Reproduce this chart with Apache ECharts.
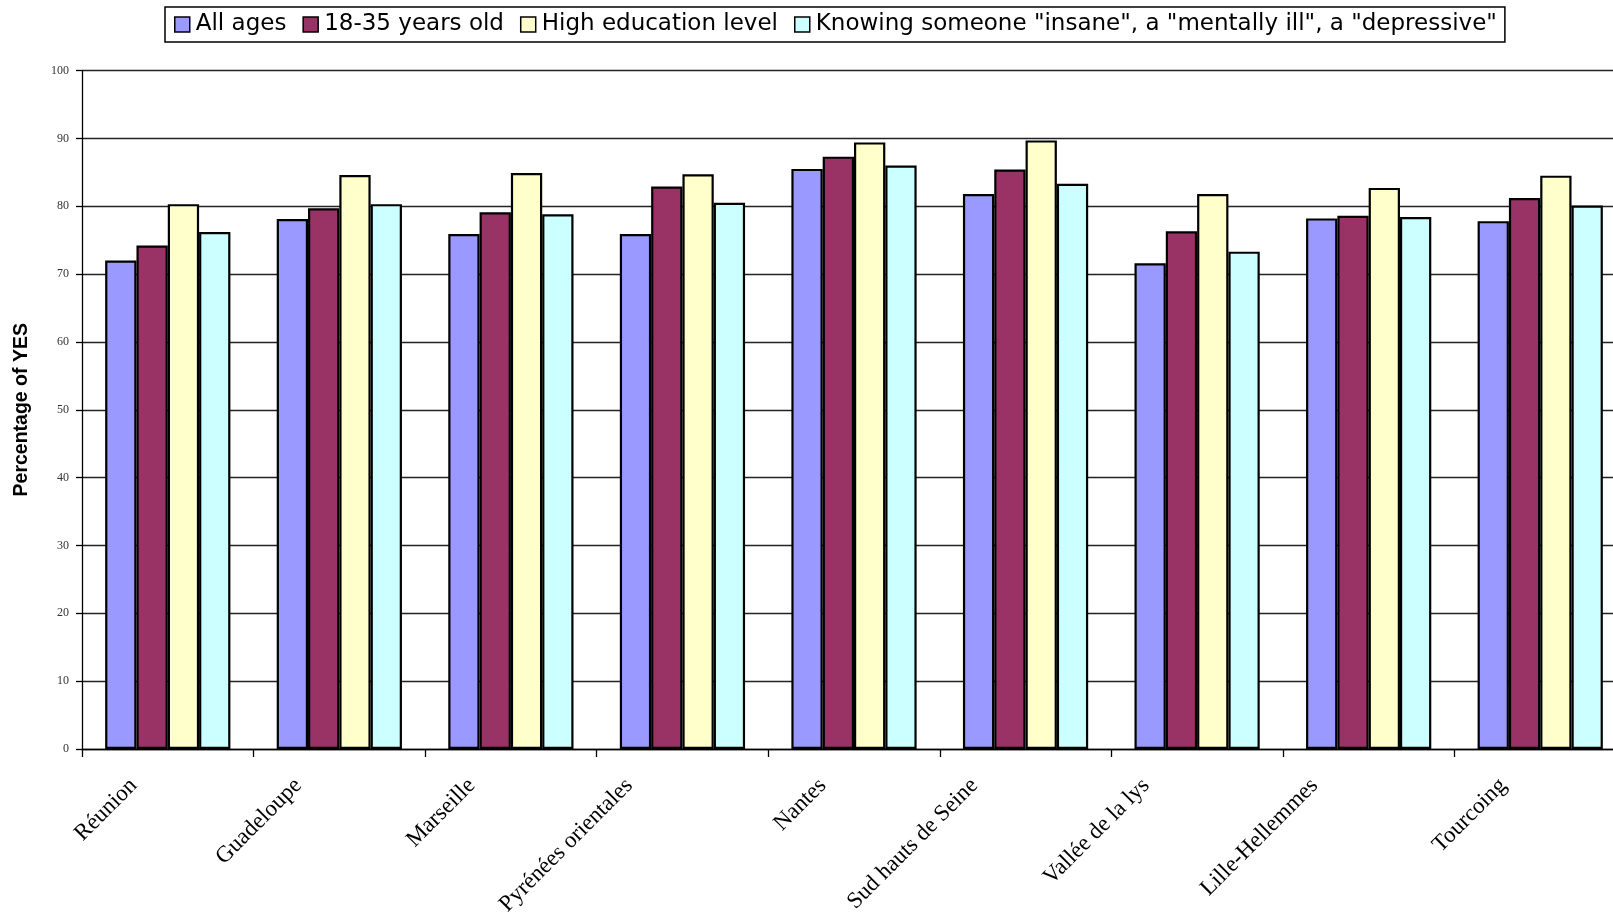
<!DOCTYPE html>
<html>
<head>
<meta charset="utf-8">
<script src="https://cdn.jsdelivr.net/npm/echarts@6/dist/echarts.min.js"></script>
<style>
  html, body { margin: 0; padding: 0; background: #fff; }
  #chart { width: 1613px; height: 916px; }
</style>
</head>
<body>
<div id="chart"></div>
<script>
// Sites surveyed
const sites = ['Réunion', 'Guadeloupe', 'Marseille', 'Pyrénées orientales', 'Nantes',
  'Sud hauts de Seine', 'Vallée de la lys', 'Lille-Hellemmes', 'Tourcoing'];

// Percentage of YES answers per group
const allAges   = [72.0, 78.1, 75.9, 75.9, 85.5, 81.8, 71.6, 78.2, 77.8];
const age18to35 = [74.2, 79.7, 79.1, 82.9, 87.3, 85.4, 76.3, 78.6, 81.2];
const highEdu   = [80.3, 84.6, 84.9, 84.7, 89.4, 89.7, 81.8, 82.7, 84.5];
const knowing   = [76.2, 80.3, 78.8, 80.5, 86.0, 83.3, 73.3, 78.4, 80.1];

const seriesNames = ['All ages', '18-35 years old', 'High education level',
  'Knowing someone "insane", a "mentally ill", a "depressive"'];
const seriesData = [allAges, age18to35, highEdu, knowing];
const seriesColors = ['#9999FF', '#993366', '#FFFFCC', '#CCFFFF'];

const yTicks = { min: 0, max: 100, interval: 10 };

// Extra leftward pull of each slanted site label (px), keeping its top edge level:
// extra right padding slides the text back along its baseline, and bottom padding
// on its rich token lifts it along its normal by the same amount.
const labelPull = [3, 10, 8, 22, 0, 20, 20, 23, 6];
const BASE_PAD = 44;
const LINE = 26;
const LABEL_FONT = { fontFamily: 'Liberation Serif', fontSize: 23, color: '#000' };

const rich = {};
const categoryItems = sites.map((name, i) => {
  const s = labelPull[i] * Math.SQRT1_2;
  rich['r' + i] = Object.assign({ padding: [0, 0, 2 * s, 0], lineHeight: LINE }, LABEL_FONT);
  return {
    value: name,
    textStyle: { padding: [0, BASE_PAD + s, 0, 0], lineHeight: LINE }
  };
});

const chart = echarts.init(document.getElementById('chart'));

chart.setOption({
  animation: false,
  backgroundColor: '#fff',
  legend: {
    top: 7,
    left: 165,
    padding: [6, 8, 6, 9],
    itemGap: 16,
    itemWidth: 15,
    itemHeight: 15,
    borderColor: '#000',
    borderWidth: 1.5,
    backgroundColor: '#fff',
    icon: 'rect',
    itemStyle: { borderColor: '#000', borderWidth: 1.5 },
    textStyle: { fontFamily: 'DejaVu Sans', fontSize: 23, color: '#000', padding: [0, 0, 0, 1] },
    data: seriesNames
  },
  grid: {
    left: 82,
    right: -13,
    top: 70.5,
    bottom: 167,
    outerBoundsMode: 'none',
    containLabel: false
  },
  xAxis: {
    type: 'category',
    data: categoryItems,
    axisLine: { lineStyle: { color: '#000', width: 1.3 } },
    axisTick: { show: true, alignWithLabel: false, length: 8, lineStyle: { color: '#000', width: 1.3 } },
    axisLabel: Object.assign({
      rotate: 45,
      interval: 0,
      margin: 2,
      lineHeight: LINE,
      padding: [0, BASE_PAD, 0, 0],
      rich: rich,
      formatter: (value, index) => '{r' + index + '|' + value + '}'
    }, LABEL_FONT)
  },
  yAxis: {
    type: 'value',
    min: yTicks.min,
    max: yTicks.max,
    interval: yTicks.interval,
    name: 'Percentage of YES',
    nameLocation: 'middle',
    nameGap: 50,
    nameTextStyle: { fontFamily: 'Liberation Sans', fontWeight: 'bold', fontSize: 19.5, color: '#000' },
    axisLine: { show: true, lineStyle: { color: '#000', width: 1.3 } },
    axisTick: { show: true, length: 6, lineStyle: { color: '#000', width: 1.3 } },
    axisLabel: { margin: 13, fontFamily: 'Liberation Serif', fontSize: 12, color: '#333' },
    splitLine: { show: true, lineStyle: { color: '#222', width: 1.3 } }
  },
  series: seriesNames.map((name, i) => ({
    name: name,
    type: 'bar',
    data: seriesData[i],
    barGap: '0%',
    barCategoryGap: '27%',
    itemStyle: { color: seriesColors[i], borderColor: '#000', borderWidth: 2.2 }
  }))
});
</script>
</body>
</html>
